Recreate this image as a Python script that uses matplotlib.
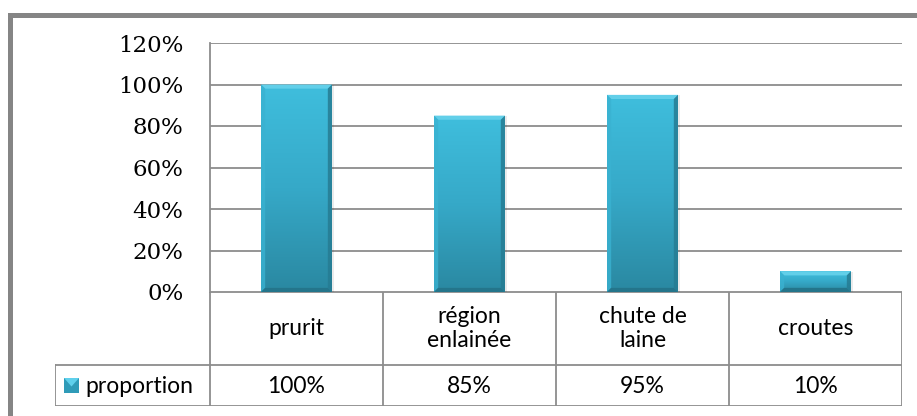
import matplotlib.pyplot as plt
import numpy as np
from matplotlib.patches import Rectangle, Polygon
from matplotlib.colors import LinearSegmentedColormap

categories = ["prurit", "région\nenlainée", "chute de\nlaine", "croutes"]
proportion = [100, 85, 95, 10]
value_labels = ["100%", "85%", "95%", "10%"]
yticks = [0, 20, 40, 60, 80, 100, 120]
series_name = "proportion"

W, H = 917, 416
fig = plt.figure(figsize=(W / 100, H / 100), dpi=100)
fig.patch.set_facecolor("white")

def fx(px):
    return px / W

def fy(py):
    return 1 - py / H

grid_col = "#8c8c8c"
sans = ["Lato", "DejaVu Sans"]
serif = ["DejaVu Serif"]
tsize = 16.5

# outer chart frame
fig.add_artist(Rectangle((fx(9.5), fy(440)), fx(940) - fx(9.5), fy(14.5) - fy(440),
                         transform=fig.transFigure, fill=False,
                         edgecolor="#858585", linewidth=3.6))

# plot area
left, right, top, bottom = 210, 902, 43, 292
ax = fig.add_axes([fx(left), fy(bottom), fx(right) - fx(left), fy(top) - fy(bottom)])
ax.set_xlim(0, len(categories))
ax.set_ylim(0, 120)
ax.set_yticks(yticks)
ax.set_yticklabels([f"{t}%" for t in yticks], fontsize=16.5, family=serif)
ax.set_xticks([])
ax.yaxis.grid(True, color=grid_col, linewidth=1.3)
ax.set_axisbelow(True)
for s in ["top", "right", "bottom"]:
    ax.spines[s].set_visible(False)
ax.spines["left"].set_color(grid_col)
ax.spines["left"].set_linewidth(1.3)
ax.tick_params(axis="y", length=0, pad=19)

cmap = LinearSegmentedColormap.from_list("bar", ["#2a88a1", "#36a9c8", "#3fbedd"])
grad = np.linspace(0, 1, 256).reshape(-1, 1)

bar_w = 0.41
bars = ax.bar(np.arange(len(categories)) + 0.5, proportion, width=bar_w,
              color="#38b0cf", edgecolor="none", zorder=3)

# vertical gradient and soft bevel on each bar
bev_x = 0.024
for b in bars:
    x0, y0 = b.get_x(), b.get_y()
    w, h = b.get_width(), b.get_height()
    # faint drop shadow
    ax.add_patch(Rectangle((x0 + 0.004, y0 - 0.3), w + 0.006, h, facecolor="#000000",
                           alpha=0.08, edgecolor="none", zorder=2.9))
    im = ax.imshow(grad, extent=(x0, x0 + w, y0, y0 + h), origin="lower",
                   cmap=cmap, aspect="auto", zorder=3.1)
    im.set_clip_path(b)
    bev_y = min(2.0, h * 0.2)
    x1, y1 = x0 + w, y0 + h
    ax.add_patch(Polygon([(x0, y1), (x1, y1), (x1 - bev_x, y1 - bev_y), (x0 + bev_x, y1 - bev_y)],
                         closed=True, facecolor="#62cfe9", edgecolor="none", zorder=3.2))
    ax.add_patch(Polygon([(x0, y0), (x0, y1), (x0 + bev_x, y1 - bev_y), (x0 + bev_x, y0 + bev_y)],
                         closed=True, facecolor="#3ab2d1", alpha=0.8, edgecolor="none", zorder=3.2))
    ax.add_patch(Polygon([(x1, y0), (x1, y1), (x1 - bev_x, y1 - bev_y), (x1 - bev_x, y0 + bev_y)],
                         closed=True, facecolor="#267c93", alpha=0.85, edgecolor="none", zorder=3.2))
    ax.add_patch(Polygon([(x0, y0), (x1, y0), (x1 - bev_x, y0 + bev_y), (x0 + bev_x, y0 + bev_y)],
                         closed=True, facecolor="#24758b", edgecolor="none", zorder=3.2))
ax.set_xlim(0, len(categories))
ax.set_ylim(0, 120)

# data table under the plot
tleft, trow1, trow2 = 55, 365, 406
tab = fig.add_axes([fx(tleft), fy(trow2), fx(right) - fx(tleft), fy(bottom) - fy(trow2)])
tab.set_xlim(tleft, right)
tab.set_ylim(trow2, bottom)
tab.axis("off")
col_edges = np.linspace(left, right, len(categories) + 1)
lw = 1.3
tab.plot([left, right], [bottom, bottom], color=grid_col, lw=lw)
tab.plot([tleft, right], [trow1, trow1], color=grid_col, lw=lw)
tab.plot([tleft, right], [trow2, trow2], color=grid_col, lw=lw)
tab.plot([tleft, tleft], [trow1, trow2], color=grid_col, lw=lw)
for x in col_edges:
    tab.plot([x, x], [bottom, trow2], color=grid_col, lw=lw)

for i, cat in enumerate(categories):
    cx = (col_edges[i] + col_edges[i + 1]) / 2
    tab.text(cx, (bottom + trow1) / 2, cat, ha="center", va="center",
             fontsize=tsize, family=sans, linespacing=1.15)
    tab.text(cx, (trow1 + trow2) / 2 + 1, value_labels[i], ha="center", va="center",
             fontsize=tsize, family=sans)

# legend key in the table
kx0, kx1, ky0, ky1 = 64, 79, 378, 393
tab.add_patch(Rectangle((kx0, ky0), kx1 - kx0, ky1 - ky0, facecolor="#2f9bb8", edgecolor="none"))
tab.add_patch(Polygon([(kx0, ky0), (kx1, ky0), ((kx0 + kx1) / 2, (ky0 + ky1) / 2 + 1)],
                      closed=True, facecolor="#5fd0ec", edgecolor="none"))
tab.text(kx1 + 6, (trow1 + trow2) / 2 + 1, series_name, ha="left", va="center",
         fontsize=tsize, family=sans)

fig.savefig("out.png", dpi=100)
